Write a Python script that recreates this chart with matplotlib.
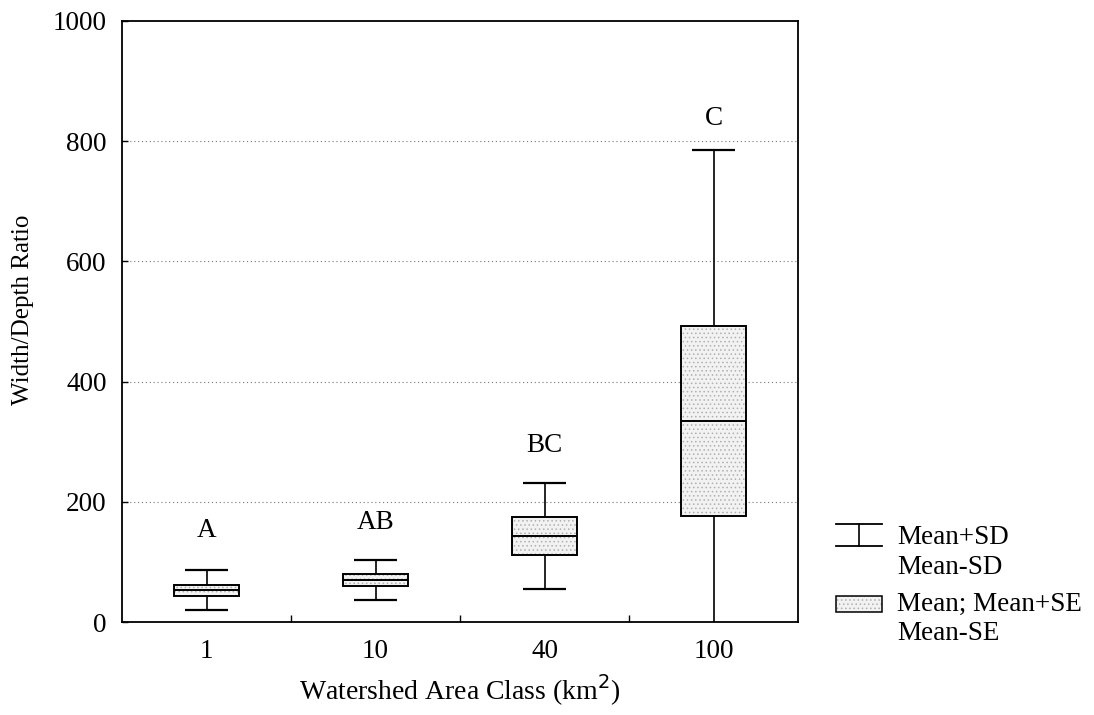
import matplotlib
matplotlib.use("Agg")
import matplotlib.pyplot as plt
from matplotlib.lines import Line2D
from matplotlib.patches import Rectangle
import numpy as np

plt.rcParams['font.family'] = ['Liberation Serif', 'DejaVu Serif']
plt.rcParams['hatch.linewidth'] = 0.6

# Width/depth ratio by watershed area class
area_classes = ["1", "10", "40", "100"]
group_letters = ["A", "AB", "BC", "C"]
means = [53, 70, 143, 335]
std_err = [9, 10, 31, 158]
std_dev = [33, 33, 88, 450]
letter_heights = [153, 165, 294, 838]

means = np.array(means, dtype=float)
std_err = np.array(std_err, dtype=float)
std_dev = np.array(std_dev, dtype=float)
xpos = np.arange(len(area_classes))

FS = 19.5

fig = plt.figure(figsize=(10.94, 7.15), dpi=100)
ax = fig.add_axes([122 / 1094, 1 - 622 / 715, 676 / 1094, 601 / 715])

box_w = 0.38
cap_w = 0.25
stipple = "#b0b0b0"

# dotted grid at the major y ticks
for yv in [200, 400, 600, 800]:
    ax.axhline(yv, color="#777777", lw=0.8, ls=(0, (1, 2.5)), zorder=0)

# whiskers: mean +/- SD
ax.vlines(xpos, means + std_err, means + std_dev, color="black", lw=1.2, zorder=2)
ax.vlines(xpos, means - std_dev, means - std_err, color="black", lw=1.2, zorder=2)
ax.hlines(means + std_dev, xpos - cap_w / 2, xpos + cap_w / 2, color="black", lw=1.6, zorder=2)
ax.hlines(means - std_dev, xpos - cap_w / 2, xpos + cap_w / 2, color="black", lw=1.6, zorder=2)

# boxes: mean +/- SE, stippled fill then outline
ax.bar(xpos, 2 * std_err, bottom=means - std_err, width=box_w, color="#f2f2f2",
       edgecolor=stipple, linewidth=0, hatch="....", zorder=3)
ax.bar(xpos, 2 * std_err, bottom=means - std_err, width=box_w, fill=False,
       edgecolor="black", linewidth=1.4, zorder=4)
ax.hlines(means, xpos - box_w / 2, xpos + box_w / 2, color="black", lw=1.4, zorder=5)

for x, lab, h in zip(xpos, group_letters, letter_heights):
    ax.text(x, h, lab, ha="center", va="center", fontsize=FS)

ax.set_xlim(-0.5, len(area_classes) - 0.5)
ax.set_ylim(0, 1000)
ax.set_yticks(np.arange(0, 1001, 200))
ax.set_xticks(xpos)
ax.set_xticklabels(area_classes)
ax.set_xticks(xpos[:-1] + 0.5, minor=True)
ax.tick_params(axis="x", which="major", length=0, pad=12, labelsize=FS)
ax.tick_params(axis="x", which="minor", direction="in", length=5, width=1)
ax.tick_params(axis="y", direction="in", length=4, width=1, pad=11, labelsize=FS)
for sp in ax.spines.values():
    sp.set_linewidth(1.3)

ax.set_xlabel("Watershed Area Class (km$^2$)", fontsize=20, labelpad=6)
ax.set_ylabel("Width/Depth Ratio", fontsize=18)
ax.yaxis.set_label_coords(-0.13, 0.52)

# legend drawn in figure pixels to the right of the axes
tr = fig.transFigure
def px(x, y):
    return x / 1094, 1 - y / 715

x0, x1 = 836, 882
xm = (x0 + x1) / 2
for yy in (524, 546):
    fig.add_artist(Line2D([px(x0, 0)[0], px(x1, 0)[0]], [px(0, yy)[1]] * 2,
                          transform=tr, color="black", lw=1.3))
fig.add_artist(Line2D([px(xm, 0)[0]] * 2, [px(0, 524)[1], px(0, 546)[1]],
                      transform=tr, color="black", lw=1.2))
fig.text(*px(897, 537), "Mean+SD", fontsize=FS, va="center", ha="left")
fig.text(*px(897, 568), "Mean-SD", fontsize=FS, va="center", ha="left")

bx, by = px(x0, 612)
bw = (x1 - x0) / 1094
bh = 16 / 715
fig.add_artist(Rectangle((bx, by), bw, bh, transform=tr, facecolor="#f2f2f2",
                         edgecolor=stipple, linewidth=0, hatch="...."))
fig.add_artist(Rectangle((bx, by), bw, bh, transform=tr, fill=False,
                         edgecolor="black", linewidth=1.1))
fig.text(*px(897, 604), "Mean; Mean+SE", fontsize=FS, va="center", ha="left")
fig.text(*px(897, 634), "Mean-SE", fontsize=FS, va="center", ha="left")

fig.savefig("out.png", dpi=100)
